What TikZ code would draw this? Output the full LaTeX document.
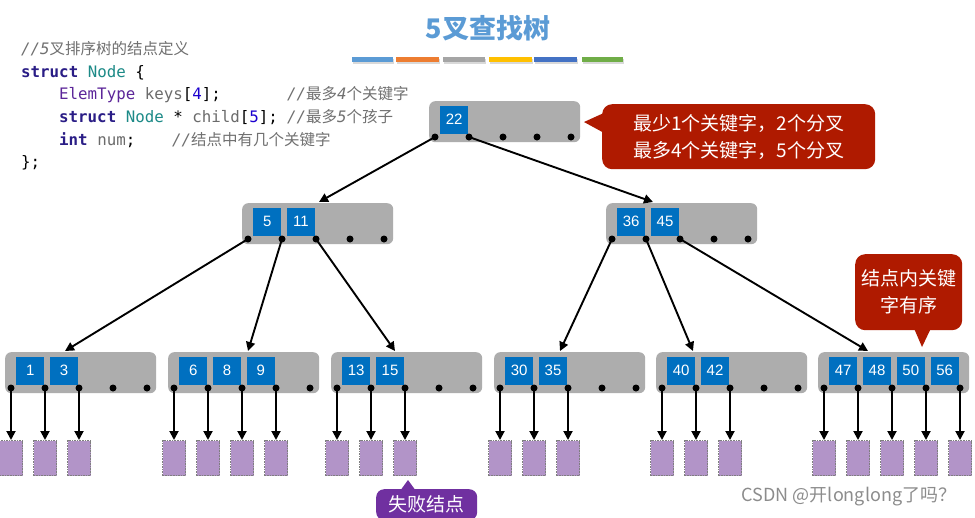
\documentclass[tikz,border=0pt]{standalone}
\usepackage{fontspec}
\setmainfont{Liberation Sans}
\setmonofont{DejaVu Sans Mono}
\newfontfamily\cjk{Noto Sans CJK SC}
\usetikzlibrary{calc,arrows.meta}
\definecolor{nodegray}{HTML}{ADADAD}
\definecolor{keyblue}{HTML}{0070C0}
\definecolor{failfill}{HTML}{B294C8}
\definecolor{failedge}{HTML}{7F7F7F}
\definecolor{calred}{HTML}{AF1A00}
\definecolor{calpurp}{HTML}{7030A0}
\definecolor{titleblue}{HTML}{5B9BD5}
\definecolor{barA}{HTML}{5B9BD5}
\definecolor{barB}{HTML}{ED7D31}
\definecolor{barC}{HTML}{A5A5A5}
\definecolor{barD}{HTML}{FFC000}
\definecolor{barE}{HTML}{4472C4}
\definecolor{barF}{HTML}{70AD47}
\definecolor{kw}{HTML}{2A1D86}
\definecolor{tyc}{HTML}{1C8A87}
\definecolor{elem}{HTML}{5C2699}
\definecolor{idc}{HTML}{6B6B6B}
\definecolor{numc}{HTML}{1C00CF}
\definecolor{cmt}{HTML}{707070}
\newcommand\cjc[1]{{\color{cmt}\cjk\fontsize{15.5}{18}\selectfont #1}}
\newcommand\ttc[1]{{\color{cmt}\itshape #1}}
\newcommand\mkTreeNode[4]{%
  \node[tbox, anchor=north west] (#1) at (#2,#3) {};
  \foreach \k [count=\i from 0] in {#4} {
    \node[kbox, anchor=north west] (#1-k\i) at ($(#1.north west)+(11+33.8*\i,4.5)$) {\k};
  }
  \foreach \i in {0,...,4} {
    \node[dotc] (#1-d\i) at ($(#1.north west)+(6+34*\i,36)$) {};
  }
}
\begin{document}
\begin{tikzpicture}[x=1pt,y=-1pt,
  tbox/.style={fill=nodegray, rounded corners=6pt, minimum width=151pt, minimum height=41pt, inner sep=0pt},
  kbox/.style={fill=keyblue, minimum width=28pt, minimum height=28pt, inner sep=0pt, text=white, font=\fontsize{15}{16}\selectfont},
  dotc/.style={circle, fill=black, inner sep=0pt, minimum size=7pt},
  fail/.style={fill=failfill, draw=failedge, dash pattern=on 1.6pt off 1pt, line width=1.3pt, minimum width=23pt, minimum height=35pt, inner sep=0pt},
  arr/.style={line width=1.9pt, -{Triangle[length=9pt,width=9pt]}},
  code/.style={anchor=base west, inner sep=0pt, font=\ttfamily\fontsize{15.8}{18}\selectfont},
  note/.style={anchor=north west, text=white, align=center, inner sep=0pt, font=\cjk\fontsize{19}{27}\selectfont}
]
\useasboundingbox (0,0) rectangle (975,517);
\fill[white] (0,0) rectangle (975,517);
\clip (0,0) rectangle (975,517);

% title and colour bars
\node[font=\cjk\bfseries\fontsize{27}{30}\selectfont, text=titleblue] (title) at (488,28) {5叉查找树};
\foreach \a/\b/\c in {352/393/barA, 396/439/barB, 443/485/barC, 489/532/barD, 534/577/barE, 582/623/barF} {
  \fill[black!15] (\a+1,58.5) rectangle (\b+1,63.5);
  \fill[\c] (\a,57) rectangle (\b,62);
}

% code
\node[code] (c1) at (21,54.5) {\ttc{//5}\cjc{叉排序树的结点定义}};
\node[code] (c2) at (21,77.2) {{\bfseries\color{kw}struct} {\color{tyc}Node} \{};
\node[code] (c3) at (59,99.8) {{\color{elem}ElemType} {\color{idc}keys}[{\color{numc}4}];};
\node[code] (c3m) at (287,99.8) {\ttc{//}\cjc{最多}\ttc{4}\cjc{个关键字}};
\node[code] (c4) at (59,122.4) {{\bfseries\color{kw}struct} {\color{tyc}Node} * {\color{idc}child}[{\color{numc}5}];};
\node[code] (c4m) at (287,122.4) {\ttc{//}\cjc{最多}\ttc{5}\cjc{个孩子}};
\node[code] (c5) at (59,145) {{\bfseries\color{kw}int} {\color{idc}num};};
\node[code] (c5m) at (172,145) {\ttc{//}\cjc{结点中有几个关键字}};
\node[code] (c6) at (21,167.6) {\};};

% tree nodes
\mkTreeNode{R}{429}{101}{22}
\mkTreeNode{A}{242}{203}{5,11}
\mkTreeNode{B}{606}{203}{36,45}
\mkTreeNode{L1}{5}{352}{1,3}
\mkTreeNode{L2}{168}{352}{6,8,9}
\mkTreeNode{L3}{331}{352}{13,15}
\mkTreeNode{L4}{494}{352}{30,35}
\mkTreeNode{L5}{656}{352}{40,42}
\mkTreeNode{L6}{818}{352}{47,48,50,56}

% arrow targets on node tops
\coordinate (A-in) at ($(A.north west)+(77,-1)$);
\coordinate (B-in) at ($(B.north west)+(47,-1)$);
\coordinate (L1-in) at ($(L1.north west)+(60,-1)$);
\coordinate (L2-in) at ($(L2.north west)+(80,-1)$);
\coordinate (L3-in) at ($(L3.north west)+(64,-1)$);
\coordinate (L4-in) at ($(L4.north west)+(66,-1)$);
\coordinate (L5-in) at ($(L5.north west)+(37,-1)$);
\coordinate (L6-in) at ($(L6.north west)+(50,-1)$);

\draw[arr] (R-d0.center) -- (A-in);
\draw[arr] (R-d1.center) -- (B-in);
\draw[arr] (A-d0.center) -- (L1-in);
\draw[arr] (A-d1.center) -- (L2-in);
\draw[arr] (A-d2.center) -- (L3-in);
\draw[arr] (B-d0.center) -- (L4-in);
\draw[arr] (B-d1.center) -- (L5-in);
\draw[arr] (B-d2.center) -- (L6-in);

% failure nodes
\foreach \L/\n in {L1/2, L2/3, L3/2, L4/2, L5/2, L6/4} {
  \foreach \i in {0,...,\n} {
    \node[fail, anchor=north] (\L-f\i) at ($(\L-d\i)+(0,52)$) {};
    \draw[arr] (\L-d\i.center) -- (\L-f\i.north);
  }
}

% callouts
\node[note, fill=calred, rounded corners=10pt, minimum width=273pt, minimum height=65pt] (note1) at (602,104) {最少1个关键字，2个分叉\\最多4个关键字，5个分叉};
\fill[calred] (584,122) -- (606,112) -- (606,134) -- cycle;
\node[note, fill=calred, rounded corners=10pt, minimum width=107pt, minimum height=76pt] (note2) at (855,254) {结点内关键\\字有序};
\fill[calred] (922,347) -- (913,326) -- (932,326) -- cycle;
\node[note, fill=calpurp, rounded corners=8pt, minimum width=101pt, minimum height=31pt] (note3) at (376,489) {失败结点};
\fill[calpurp] (408,480) -- (400,491) -- (416,491) -- cycle;

% watermark
\node[font=\cjk\fontsize{18}{20}\selectfont, text=black!45] (wm) at (849,497) {CSDN @开longlong了吗？};
\end{tikzpicture}
\end{document}
